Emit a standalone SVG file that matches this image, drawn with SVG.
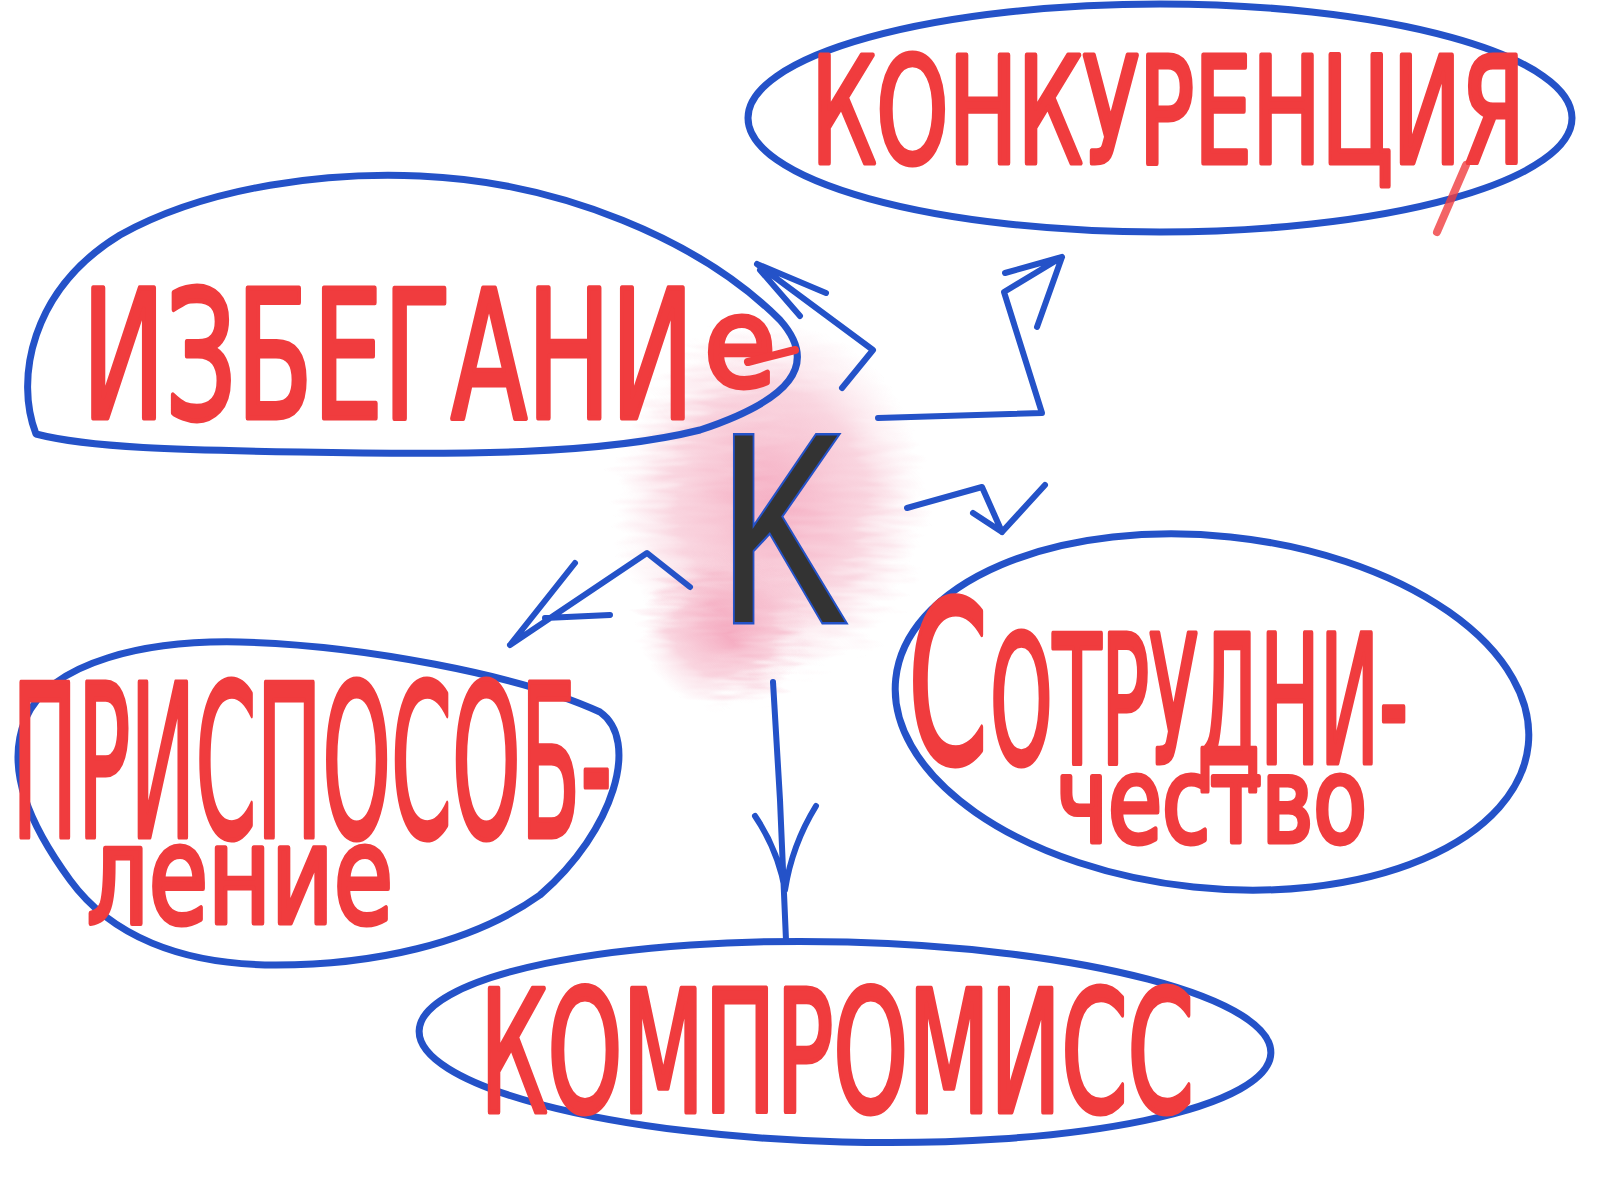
<svg xmlns="http://www.w3.org/2000/svg" width="1600" height="1200" viewBox="0 0 1600 1200">
<defs>
<style>
.node-shape{fill:none;stroke:#2452c8;stroke-width:7;stroke-linecap:round;stroke-linejoin:round}
.conn{fill:none;stroke:#2452c8;stroke-width:6;stroke-linecap:round;stroke-linejoin:round}
.lbl{font-family:"Liberation Sans Narrow","DejaVu Sans Condensed","Liberation Sans",sans-serif;fill:#f03c3e;stroke:#f03c3e;stroke-width:5;stroke-linejoin:round}
.redline{fill:none;stroke:#f03c3e;stroke-width:8;stroke-linecap:round}
</style>
<radialGradient id="pink" cx="0.5" cy="0.5" r="0.5">
<stop offset="0" stop-color="#f39ab4" stop-opacity="0.8"/>
<stop offset="0.6" stop-color="#f5b3c6" stop-opacity="0.55"/>
<stop offset="1" stop-color="#f8d0dc" stop-opacity="0"/>
</radialGradient>
<filter id="rough" x="-20%" y="-20%" width="140%" height="140%">
<feTurbulence type="fractalNoise" baseFrequency="0.02 0.12" numOctaves="2" seed="3"/>
<feDisplacementMap in="SourceGraphic" scale="40"/>
</filter>
</defs>
<rect width="1600" height="1200" fill="#ffffff"/>

<g id="center-blob" filter="url(#rough)">
<ellipse cx="770" cy="500" rx="155" ry="180" fill="url(#pink)"/>
<ellipse cx="725" cy="630" rx="85" ry="78" fill="url(#pink)"/>
</g>

<g id="connectors">
<path class="conn" d="M842 388 L873 350 L757 264 M757 264 L826 293 M760 270 L800 316"/>
<path class="conn" d="M878 418 L1042 413 L1020 343 L1004 292 L1062 257 M1062 257 L1005 273 M1062 257 L1037 327"/>
<path class="conn" d="M907 508 L982 487 L1002 532 M1002 532 L973 513 M1002 532 L1045 485"/>
<path class="conn" d="M690 587 L647 553 L510 645 M510 645 L575 563 M545 618 L610 615"/>
<path class="conn" d="M773 682 L780 800 L786 940 M755 816 Q778 850 785 890 M816 806 Q792 845 785 890"/>
</g>

<g id="node-center">
<text x="719" y="622" font-family="Liberation Sans, DejaVu Sans, sans-serif" font-size="271" textLength="128" lengthAdjust="spacingAndGlyphs" fill="#333333" stroke="#2452c8" stroke-width="5" paint-order="stroke">K</text>
</g>

<g id="node-konkurenciya">
<ellipse class="node-shape" cx="1160" cy="118" rx="412" ry="114"/>
<text class="lbl" x="811" y="163" font-size="148" textLength="714" lengthAdjust="spacingAndGlyphs">КОНКУРЕНЦИЯ</text>
<path class="redline" d="M1466 165 L1437 232" opacity="0.8"/>
</g>

<g id="node-izbeganie">
<path class="node-shape" d="M36 434 C15 380 30 290 120 235 C210 185 330 172 420 176 C560 182 700 240 780 320 C820 365 790 400 700 430 C600 455 460 455 300 452 C180 450 90 448 36 434 Z"/>
<text class="lbl"><tspan x="82" y="418" font-size="178" textLength="612" lengthAdjust="spacingAndGlyphs">ИЗБЕГАНИ</tspan><tspan x="704" y="386" font-size="125" textLength="72" lengthAdjust="spacingAndGlyphs">е</tspan></text>
<path class="redline" d="M748 362 L795 350" stroke-width="5"/>
</g>

<g id="node-prisposoblenie">
<path class="node-shape" d="M25 720 C50 660 150 640 240 642 C360 645 520 675 600 712 C640 740 615 830 540 895 C470 945 370 965 276 965 C180 965 110 935 70 880 C30 825 5 770 25 720 Z"/>
<text class="lbl" x="12" y="837" font-size="213" textLength="600" lengthAdjust="spacingAndGlyphs">ПРИСПОСОБ-</text>
<text class="lbl" x="87" y="923" font-size="137" textLength="306" lengthAdjust="spacingAndGlyphs">ление</text>
</g>

<g id="node-sotrudnichestvo">
<ellipse class="node-shape" cx="1212" cy="712" rx="318" ry="176" transform="rotate(6 1212 712)"/>
<text class="lbl"><tspan x="908" y="763" font-size="225" textLength="80" lengthAdjust="spacingAndGlyphs">С</tspan><tspan x="990" y="763" font-size="178" textLength="418" lengthAdjust="spacingAndGlyphs">ОТРУДНИ-</tspan></text>
<text class="lbl" x="1056" y="842" font-size="120" textLength="311" lengthAdjust="spacingAndGlyphs">чество</text>
</g>

<g id="node-kompromiss">
<ellipse class="node-shape" cx="845" cy="1042" rx="426" ry="100" transform="rotate(1.5 845 1042)"/>
<text class="lbl" x="480" y="1112" font-size="170" textLength="714" lengthAdjust="spacingAndGlyphs">КОМПРОМИСС</text>
</g>
</svg>
